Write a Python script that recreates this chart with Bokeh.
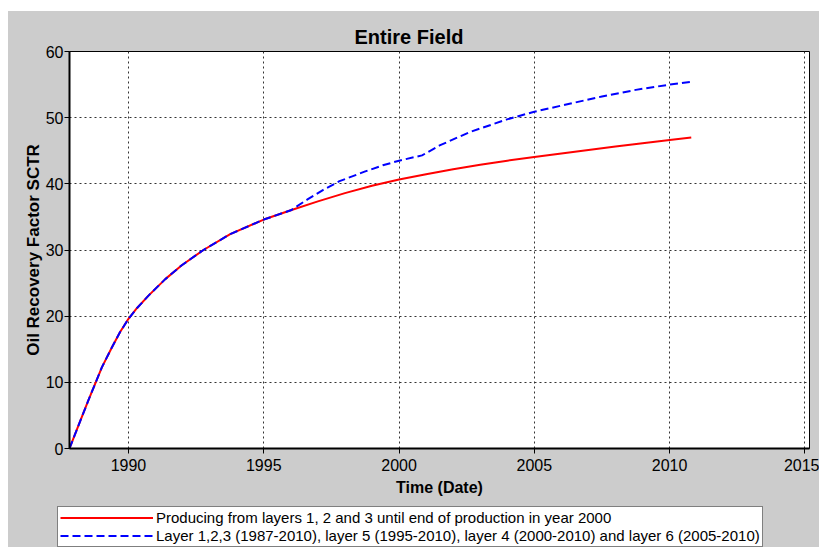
from bokeh.plotting import figure
from bokeh.layouts import column
from bokeh.models import FixedTicker, Legend, LegendItem, Range1d
from bokeh.embed import file_html
from bokeh.resources import INLINE

# Oil recovery factor over time for the whole field, two production scenarios
years_base = [1987.82, 1988.03, 1988.28, 1988.52, 1988.77, 1989.02, 1989.39, 1989.69,
              1990.0, 1990.31, 1990.74, 1991.36, 1991.97, 1992.77, 1993.76, 1995.0,
              1996.0, 1997.0, 1998.0, 1999.0, 2000.0, 2001.0, 2002.0, 2003.0,
              2004.0, 2005.0, 2006.0, 2007.0, 2008.0, 2009.0, 2010.0, 2010.8]
recovery_base = [0.0, 2.2, 4.8, 7.3, 9.8, 12.3, 15.3, 17.6,
                 19.6, 21.2, 23.1, 25.6, 27.7, 30.0, 32.4, 34.6,
                 36.0, 37.35, 38.6, 39.7, 40.65, 41.45, 42.2, 42.9,
                 43.5, 44.05, 44.6, 45.12, 45.63, 46.13, 46.62, 47.0]

years_layers = [1987.82, 1988.03, 1988.28, 1988.52, 1988.77, 1989.02, 1989.39, 1989.69,
                1990.0, 1990.31, 1990.74, 1991.36, 1991.97, 1992.77, 1993.76, 1995.0,
                1996.0, 1996.6, 1997.2, 1997.8, 1998.7, 1999.4, 2000.0, 2000.85,
                2001.5, 2002.6, 2003.96, 2005.0, 2006.3, 2007.5, 2008.75, 2010.0, 2010.8]
recovery_layers = [0.0, 2.2, 4.8, 7.3, 9.8, 12.3, 15.3, 17.6,
                   19.6, 21.2, 23.1, 25.6, 27.7, 30.0, 32.4, 34.6,
                   36.0, 37.6, 39.1, 40.4, 41.8, 42.8, 43.5, 44.3,
                   45.8, 47.8, 49.7, 50.9, 52.1, 53.2, 54.2, 55.0, 55.4]

x_ticks = [1990, 1995, 2000, 2005, 2010, 2015]
y_ticks = [0, 10, 20, 30, 40, 50, 60]

label_base = "Producing from layers 1, 2 and 3 until end of production in year 2000"
label_layers = ("Layer 1,2,3 (1987-2010), layer 5 (1995-2010), layer 4 (2000-2010) "
                "and layer 6 (2005-2010)")

FONT = "Liberation Sans"
PANEL = "#cccccc"
RED_STYLE = dict(line_color="#ff0000", line_width=2)
BLUE_STYLE = dict(line_color="#0000ff", line_width=2, line_dash="8 4")

# ---- main chart -----------------------------------------------------------
p = figure(width=811, height=489, frame_align=False,
           output_backend="svg", toolbar_location=None,
           x_range=Range1d(1987.82, 2015.17), y_range=Range1d(0, 60),
           min_border_left=61, min_border_right=10, min_border_top=40, min_border_bottom=52,
           title="Entire  Field")

p.background_fill_color = "white"
p.border_fill_color = PANEL
p.outline_line_color = "black"
p.outline_line_width = 1

p.title.align = "left"
p.title.vertical_align = "middle"
p.title.text_font = FONT
p.title.text_font_size = "20px"
p.title.text_font_style = "bold"
p.title.text_color = "black"
p.title.offset = 285
p.title.standoff = 5

for ax in (p.xaxis[0], p.yaxis[0]):
    ax.axis_line_color = "black"
    ax.axis_line_width = 2
    ax.major_tick_line_color = "black"
    ax.major_tick_line_width = 1
    ax.major_tick_out = 5
    ax.major_tick_in = 0
    ax.minor_tick_line_color = None
    ax.major_label_text_font = FONT
    ax.major_label_text_font_size = "16px"
    ax.major_label_text_color = "black"
    ax.axis_label_text_font = FONT
    ax.axis_label_text_font_style = "bold"
    ax.axis_label_text_color = "black"

p.xaxis.ticker = FixedTicker(ticks=x_ticks)
p.yaxis.ticker = FixedTicker(ticks=y_ticks)
p.xaxis.axis_label = "Time (Date)"
p.yaxis.axis_label = "Oil Recovery Factor SCTR"
p.xaxis.axis_label_text_font_size = "16px"
p.yaxis.axis_label_text_font_size = "17px"
p.xaxis.major_label_standoff = 5
p.yaxis.major_label_standoff = 1
p.xaxis.axis_label_standoff = 5
p.yaxis.axis_label_standoff = 0

for g in (p.xgrid[0], p.ygrid[0]):
    g.grid_line_color = "#333333"
    g.grid_line_dash = "2 3"
    g.grid_line_width = 1

p.line(years_base, recovery_base, **RED_STYLE)
p.line(years_layers, recovery_layers, **BLUE_STYLE)

# ---- legend strip underneath ------------------------------------------------
# The key renderers reuse the series but sit outside this strip's ranges,
# so only their legend swatches show.
leg_fig = figure(width=811, height=47, frame_align=False,
                 output_backend="svg", toolbar_location=None,
                 x_range=Range1d(0, 1), y_range=Range1d(0, 1),
                 x_axis_type=None, y_axis_type=None,
                 min_border_left=49, min_border_right=0, min_border_top=6, min_border_bottom=0)
leg_fig.background_fill_color = PANEL
leg_fig.border_fill_color = PANEL
leg_fig.outline_line_color = None
leg_fig.xgrid.visible = False
leg_fig.ygrid.visible = False

key_base = leg_fig.line(years_base, recovery_base, **RED_STYLE)
key_layers = leg_fig.line(years_layers, recovery_layers, **BLUE_STYLE)

legend = Legend(items=[LegendItem(label=label_base, renderers=[key_base]),
                       LegendItem(label=label_layers, renderers=[key_layers])],
                location="top_left")
legend.label_text_font = FONT
legend.label_text_font_size = "15px"
legend.label_text_color = "black"
legend.glyph_width = 93
legend.glyph_height = 17
legend.label_height = 17
legend.label_standoff = 3
legend.spacing = 1
legend.padding = 2
legend.margin = 0
legend.border_line_color = "black"
legend.border_line_width = 1
legend.background_fill_color = "white"
legend.background_fill_alpha = 1
leg_fig.add_layout(legend, "center")

layout = column(p, leg_fig, spacing=0, margin=(11, 0, 0, 8),
                styles={"background-color": PANEL})
open("out.html", "w").write(file_html(layout, INLINE))
